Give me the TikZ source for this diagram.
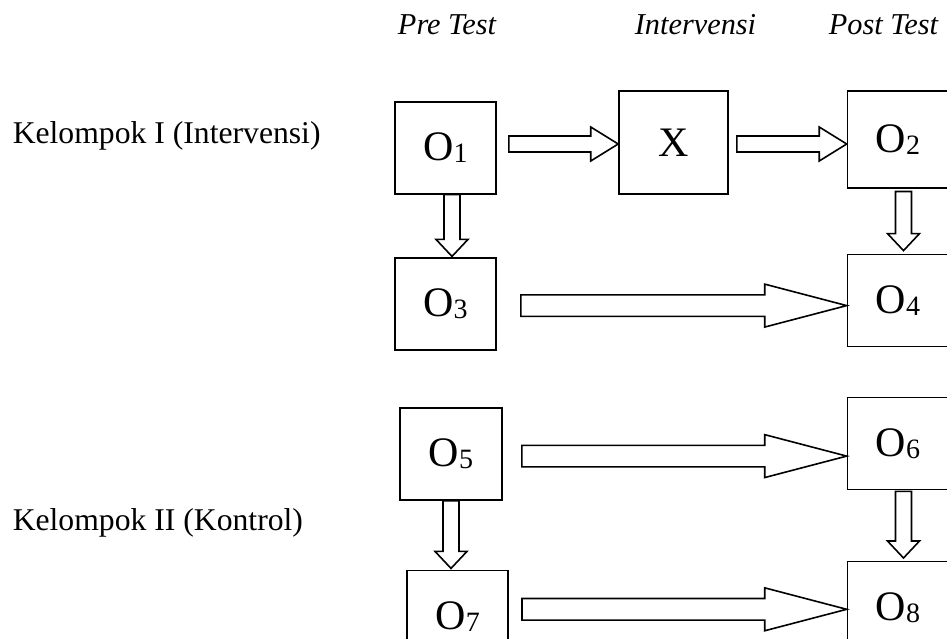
\documentclass[tikz,border=0pt]{standalone}
\usepackage{fontspec}
\setmainfont{Liberation Serif}
\usepackage{tikz}
\usetikzlibrary{positioning, calc}

% observation label with a slightly lowered index
\newcommand{\Osub}[1]{O\raisebox{-1.5pt}{\fontsize{21}{22}\selectfont #1}}

% hollow block arrow: tail, tip, shaft half width, head half width, head length
\newcommand{\blockarrow}[5]{%
  \coordinate (hb) at ($(#2)!#5!(#1)$);
  \draw[arrowline] ($(#1)!#3!90:(#2)$) -- ($(hb)!#3!90:(#2)$) -- ($(hb)!#4!90:(#2)$) -- (#2)
    -- ($(hb)!#4!-90:(#2)$) -- ($(hb)!#3!-90:(#2)$) -- ($(#1)!#3!-90:(#2)$) -- cycle;
}

\tikzset{
  obox/.style={draw, line width=1.2pt, minimum width=75.75pt, minimum height=69pt,
    inner sep=0pt, font=\fontsize{31.5}{36}\selectfont},
  arrowline/.style={draw, line width=1.2pt, fill=white, line join=miter},
  grouplabel/.style={inner sep=0pt, anchor=base west, font=\fontsize{23.75}{28}\selectfont},
  phaselabel/.style={inner sep=0pt, anchor=base, font=\fontsize{22.75}{27}\selectfont\itshape}
}

\begin{document}
\begin{tikzpicture}[x=0.75pt, y=-0.75pt]
        \clip (0,0) rectangle (947,639);

        % column headings
        \node[phaselabel] (pre) at (447,35) {Pre Test};
        \node[phaselabel] (int) at (695.5,35) {Intervensi};
        \node[phaselabel] (post) at (883.5,35) {Post Test};

        % group names
        \node[grouplabel] (k1) at (12.5,143) {Kelompok I (Intervensi)};
        \node[grouplabel] (k2) at (12.5,530) {Kelompok II (Kontrol)};

        % group I
        \node[obox] (O1) at (445.5,147.7) {\Osub{1}};
        \node[obox, minimum width=81.75pt, minimum height=77.6pt] (X) at (673.5,142.5) {X};
        \node[obox, minimum height=72.75pt] (O2) at (898,139.2) {\Osub{2}};
        \node[obox] (O3) at (445.5,304.2) {\Osub{3}};
        \node[obox] (O4) at (898,300.4) {\Osub{4}};

        % group II
        \node[obox, minimum width=76.5pt] (O5) at (451,454.1) {\Osub{5}};
        \node[obox] (O6) at (898,443.6) {\Osub{6}};
        \node[obox] (O7) at (457.7,616.6) {\Osub{7}};
        \node[obox] (O8) at (898,607.3) {\Osub{8}};

        % arrow ends
        \coordinate (a1) at ($(O1.east)+(12,-3.7)$);
        \coordinate (b1) at (X.west |- a1);
        \coordinate (a2) at ($(X.east)+(8,1.5)$);
        \coordinate (b2) at (O2.west |- a2);
        \coordinate (a3) at ($(O1.south)+(6.5,0)$);
        \coordinate (b3) at ($(O3.north)+(6.5,-1)$);
        \coordinate (a4) at ($(O2.south)+(5.5,3)$);
        \coordinate (b4) at ($(O4.north)+(5.5,-3)$);
        \coordinate (a5) at ($(O3.east)+(24,1.4)$);
        \coordinate (b5) at (O4.west |- a5);
        \coordinate (a6) at ($(O5.east)+(19,2)$);
        \coordinate (b6) at (O6.west |- a6);
        \coordinate (a7) at (O5.south);
        \coordinate (b7) at ($(O5.south |- O7.north)+(0,-1.4)$);
        \coordinate (a8) at ($(O6.south)+(5.5,1)$);
        \coordinate (b8) at ($(O8.north)+(5.5,-2.5)$);
        \coordinate (a9) at ($(O7.east |- O8.west)+(13,2)$);
        \coordinate (b9) at (O8.west |- a9);

        % short arrows
        \blockarrow{a1}{b1}{6pt}{12.75pt}{20.6pt}
        \blockarrow{a2}{b2}{6pt}{12.75pt}{20.6pt}
        \blockarrow{a3}{b3}{6pt}{12pt}{12.75pt}
        \blockarrow{a4}{b4}{6pt}{12pt}{12.75pt}
        \blockarrow{a7}{b7}{6pt}{12pt}{12.75pt}
        \blockarrow{a8}{b8}{6pt}{12pt}{12.75pt}

        % long arrows
        \blockarrow{a5}{b5}{8.1pt}{16.1pt}{61.5pt}
        \blockarrow{a6}{b6}{8.1pt}{16.1pt}{61.5pt}
        \blockarrow{a9}{b9}{8.1pt}{16.1pt}{61.5pt}
\end{tikzpicture}
\end{document}
